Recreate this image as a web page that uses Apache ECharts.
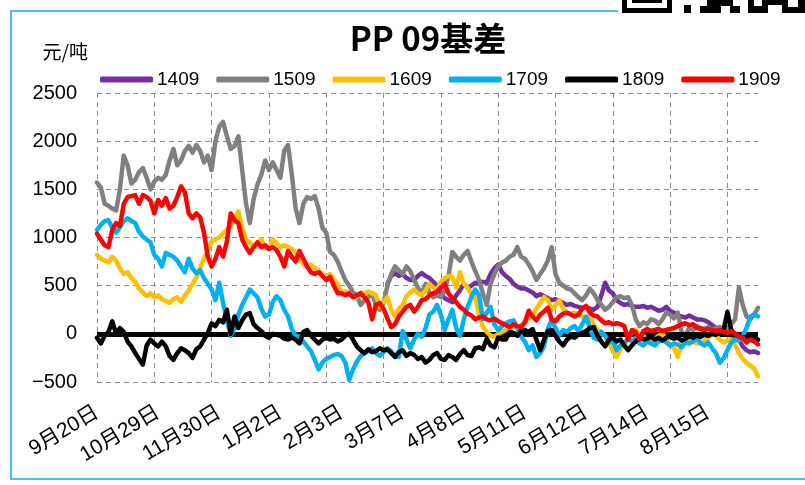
<!DOCTYPE html>
<html><head><meta charset="utf-8">
<script src="https://cdn.jsdelivr.net/npm/echarts@6/dist/echarts.min.js"></script>
<style>html,body{margin:0;padding:0;background:#fff}#c{width:805px;height:485px}</style>
</head><body><div id="c"></div>
<script>
// ---- data ----
const tickLabels = ['9月20日','10月29日','11月30日','1月2日','2月3日','3月7日','4月8日','5月11日','6月12日','7月14日','8月15日'];
const seriesNames = ['1409','1509','1609','1709','1809','1909'];
const seriesColors = ['#7030A0','#808080','#FFC000','#00B0F0','#000000','#FF0000'];

const s1409Start = 76; // 1409 contract data begins later (listed in March)
const s1409 = [520,600,630,600,
620,580,560,560,600,630,600,580,540,500,
420,370,350,330,400,450,520,480,500,530,
520,540,530,620,680,720,640,600,570,520,
490,470,470,450,430,390,410,390,370,350,
360,340,320,300,310,290,280,270,280,260,
250,280,400,530,450,420,350,320,300,310,
290,280,280,290,270,280,260,240,250,280,
240,220,190,180,170,190,170,150,150,140,
120,90,60,40,20,0,-20,-30,-60,-130,
-170,-190,-180,-200];

const s1509 = [1570,1520,1350,1330,1300,1280,1500,1850,1750,1560,
1600,1680,1720,1620,1500,1580,1620,1600,1650,1800,
1920,1750,1800,1900,1950,1880,1960,1900,1780,1850,
1700,2000,2150,2200,2050,1920,1950,2050,1700,1350,
1150,1400,1550,1650,1800,1700,1780,1700,1620,1900,
1960,1650,1300,1150,1350,1420,1400,1430,1300,1100,
1050,850,820,750,650,560,500,430,400,300,
350,380,420,300,250,320,500,620,700,660,
620,700,650,560,480,420,520,430,380,400,
380,450,600,850,800,760,820,860,750,650,
560,420,300,520,620,700,740,760,800,820,
900,800,780,720,650,560,620,680,760,900,
620,530,500,470,460,420,380,350,400,470,
420,350,300,250,280,330,380,390,370,380,
300,150,80,120,100,150,140,100,150,220,
200,160,220,20,-20,60,40,80,60,50,
70,40,60,70,40,60,100,150,480,300,
180,150,200,270];

const s1609 = [820,780,760,740,800,760,680,620,640,580,
540,470,430,390,420,380,400,360,340,320,
360,380,330,400,450,520,580,680,780,860,
960,980,1000,1040,1080,1120,1200,1270,1100,980,
950,900,940,980,900,880,980,940,900,920,
900,880,850,770,720,700,720,680,660,620,
590,620,560,520,430,440,420,390,380,430,
420,440,420,400,280,330,380,250,180,260,
300,390,430,460,420,400,450,520,480,460,
540,580,600,590,480,640,520,480,400,380,
200,70,20,-20,-30,0,20,40,60,80,
70,90,120,160,180,260,320,380,350,250,
300,350,260,220,210,220,200,180,170,180,
100,40,20,-30,-90,-180,-240,-160,-100,-40,
20,40,0,-20,-60,-90,-50,-20,0,-60,
-120,-140,-240,-100,-80,-90,-80,-100,-90,-70,
-40,0,-20,-60,-90,-70,-60,-110,-200,-260,
-300,-330,-360,-440];

const s1709 = [1080,1130,1170,1180,1100,1050,1110,1170,1200,1170,
1150,1060,1010,980,950,820,780,700,840,820,
800,760,700,640,780,680,630,660,580,520,
460,350,530,320,140,-20,60,200,300,380,
460,420,380,260,180,200,330,390,350,250,
180,50,-20,-30,-80,-130,-180,-270,-370,-300,
-260,-240,-220,-210,-230,-300,-480,-370,-290,-230,
-200,-180,-150,-200,-230,-190,-150,-180,-230,-240,
30,-60,-150,-60,0,-30,60,200,230,300,
200,40,150,250,60,-20,150,280,380,460,
400,150,220,280,100,40,80,110,130,140,
60,-30,-80,-170,-120,-240,-200,-130,50,145,
60,-20,40,20,60,80,30,100,180,60,
-40,-60,20,-20,-90,-60,-170,-120,-100,-50,
-80,-40,-100,-120,-80,-100,-120,-80,-60,-90,
-120,-100,-110,-140,-90,-100,-80,-40,-100,-120,
-90,-150,-200,-300,-250,-170,-90,-60,-70,-20,
60,180,200,180];

const s1809 = [-40,-100,-20,20,130,0,60,20,-80,-130,
-200,-260,-320,-120,-60,-100,-130,-80,-130,-230,
-270,-200,-150,-170,-200,-250,-160,-130,-60,10,
110,80,145,120,250,0,180,60,140,200,
215,100,60,30,-20,-40,0,-10,-20,-50,
-60,-40,-60,-100,20,40,-20,-60,-100,-60,
-40,-60,-50,-80,-60,-20,0,-60,-130,-170,
-200,-160,-190,-180,-150,-170,-160,-200,-240,-190,
-170,-230,-200,-220,-260,-240,-300,-270,-220,-200,
-260,-270,-220,-240,-270,-210,-170,-220,-230,-150,
-140,-160,-50,-120,-140,-40,-60,-60,20,10,
-20,30,40,20,50,-60,-170,-60,30,40,
-20,-80,-120,-60,-30,-40,-10,10,30,60,
70,-20,-80,-130,-60,-40,-80,-60,-120,-170,
-120,-80,-40,-60,-50,-30,-60,-40,-70,-40,
-30,-50,-40,-70,-50,-30,-40,-20,-30,-10,
-20,0,-10,20,40,230,40,0,-20,-40,
-30,-20,-40,-60];

const s1909 = [1040,980,920,900,1080,1150,1120,1350,1420,1430,
1440,1350,1440,1420,1380,1250,1390,1330,1410,1300,
1330,1420,1530,1470,1250,1200,1250,1210,1050,800,
700,780,900,800,960,1250,1180,1150,980,900,
840,900,950,900,920,880,900,870,800,700,
860,800,750,860,780,700,640,620,640,600,
560,590,500,420,420,400,420,380,400,420,
380,330,150,300,320,260,160,70,100,180,
230,280,300,230,280,350,360,400,420,440,
480,520,420,370,330,280,250,210,190,150,
170,180,150,140,160,130,110,90,70,100,
80,70,120,240,180,140,200,230,270,150,
130,180,210,220,200,180,200,260,290,220,
190,180,140,110,120,100,110,100,80,-60,
40,20,-60,30,50,30,40,50,30,40,
50,60,80,100,110,90,100,60,50,40,
50,40,30,40,20,10,30,0,-30,-40,
-90,-60,-80,-110];

const yTicks = {min:-500, max:2500, step:500};
const labelEvery = 16;   // categories between date labels
const gridEvery = 15;    // categories between vertical gridlines

// ---- build ----
const categories = s1509.map((_, i) => String(i));
const padded1409 = categories.map((_, i) => i < s1409Start ? null : s1409[i - s1409Start]);
const allData = [padded1409, s1509, s1609, s1709, s1809, s1909];

const LATIN = '"Liberation Sans", "Noto Sans CJK SC", sans-serif';
const CJK = '"Noto Sans CJK SC", sans-serif';

const lineSeries = seriesNames.map((n, k) => ({
  name: n, type: 'line', data: allData[k], showSymbol: false, symbol: 'none',
  connectNulls: false, color: seriesColors[k],
  lineStyle: {width: 4.5, color: seriesColors[k], join: 'round', cap: 'round'},
  z: 3 + k
}));
// zero baseline (category axis crossing at 0)
lineSeries.push({
  name: 'zero', type: 'line', data: categories.map(() => null), z: 1, silent: true,
  markLine: {silent: true, symbol: ['none', 'none'], label: {show: false},
    lineStyle: {color: '#000', width: 5, type: 'solid'}, data: [{yAxis: 0}]}
});

const chart = echarts.init(document.getElementById('c'), null, {renderer: 'canvas'});
chart.setOption({
  animation: false,
  backgroundColor: '#ffffff',
  title: {
    text: 'PP 09基差', left: 428, top: 22, padding: 0, textAlign: 'center',
    textStyle: {fontSize: 33, fontWeight: 'bold', color: '#000', fontFamily: CJK}
  },
  legend: {
    data: seriesNames, left: 100, top: 70, padding: 0,
    icon: 'roundRect', itemWidth: 53, itemHeight: 6, itemGap: 17,
    textStyle: {fontSize: 19, color: '#000', fontFamily: LATIN, padding: [0,0,0,-1]}
  },
  grid: {left: 97, right: 47, top: 93, bottom: 103},
  xAxis: {
    type: 'category', data: categories, boundaryGap: false,
    axisLine: {show: false}, axisTick: {show: false},
    axisLabel: {
      interval: labelEvery - 1, rotate: 31, margin: 29, fontSize: 21, color: '#000', fontFamily: LATIN,
      formatter: (v, i) => (i % labelEvery === 0 ? tickLabels[i / labelEvery] : '')
    },
    splitLine: {show: true, interval: gridEvery - 1, lineStyle: {color: '#8c8c8c', width: 1, type: [5, 4]}}
  },
  yAxis: {
    type: 'value', min: yTicks.min, max: yTicks.max, interval: yTicks.step,
    name: '元/吨', nameLocation: 'end', nameGap: 32,
    nameTextStyle: {fontSize: 19, color: '#000', fontFamily: CJK, align: 'right', padding: [0, 9, 0, 0]},
    axisLine: {show: false}, axisTick: {show: false},
    axisLabel: {fontSize: 20, color: '#000', margin: 20, fontFamily: LATIN,
      formatter: v => (v < 0 ? '\u2212' + Math.abs(v) : String(v))},
    splitLine: {show: true, lineStyle: {color: '#8c8c8c', width: 1, type: [5, 4]}}
  },
  series: lineSeries,
  graphic: [
    {type: 'rect', z: -10, silent: true, shape: {x: 11, y: 11, width: 820, height: 468},
     style: {fill: 'none', stroke: '#4dbde9', lineWidth: 2}},
    {type: 'rect', z: 100, silent: true, shape: {x: 618, y: 0, width: 187, height: 15}, style: {fill: '#fff'}},
    {type: 'rect', z: 101, silent: true, shape: {x: 622, y: 0, width: 50, height: 13}, style: {fill: '#000'}},
    {type: 'rect', z: 102, silent: true, shape: {x: 627, y: 0, width: 40, height: 8}, style: {fill: '#fff'}},
    {type: 'rect', z: 103, silent: true, shape: {x: 632, y: 0, width: 30, height: 3}, style: {fill: '#000'}},
    {type: 'rect', z: 101, silent: true, shape: {x: 684, y: 5, width: 7, height: 8}, style: {fill: '#000'}},
    {type: 'rect', z: 101, silent: true, shape: {x: 700, y: 6, width: 7, height: 7}, style: {fill: '#000'}},
    {type: 'rect', z: 101, silent: true, shape: {x: 707, y: 0, width: 14, height: 13}, style: {fill: '#000'}},
    {type: 'rect', z: 101, silent: true, shape: {x: 721, y: 0, width: 12, height: 6}, style: {fill: '#000'}},
    {type: 'rect', z: 101, silent: true, shape: {x: 730, y: 6, width: 10, height: 7}, style: {fill: '#000'}},
    {type: 'rect', z: 101, silent: true, shape: {x: 748, y: 0, width: 20, height: 13}, style: {fill: '#000'}},
    {type: 'rect', z: 102, silent: true, shape: {x: 754, y: 0, width: 8, height: 6}, style: {fill: '#fff'}},
    {type: 'rect', z: 101, silent: true, shape: {x: 768, y: 0, width: 14, height: 5}, style: {fill: '#000'}},
    {type: 'rect', z: 101, silent: true, shape: {x: 782, y: 0, width: 23, height: 13}, style: {fill: '#000'}},
    {type: 'rect', z: 102, silent: true, shape: {x: 788, y: 0, width: 10, height: 7}, style: {fill: '#fff'}}
  ]
});
</script></body></html>
